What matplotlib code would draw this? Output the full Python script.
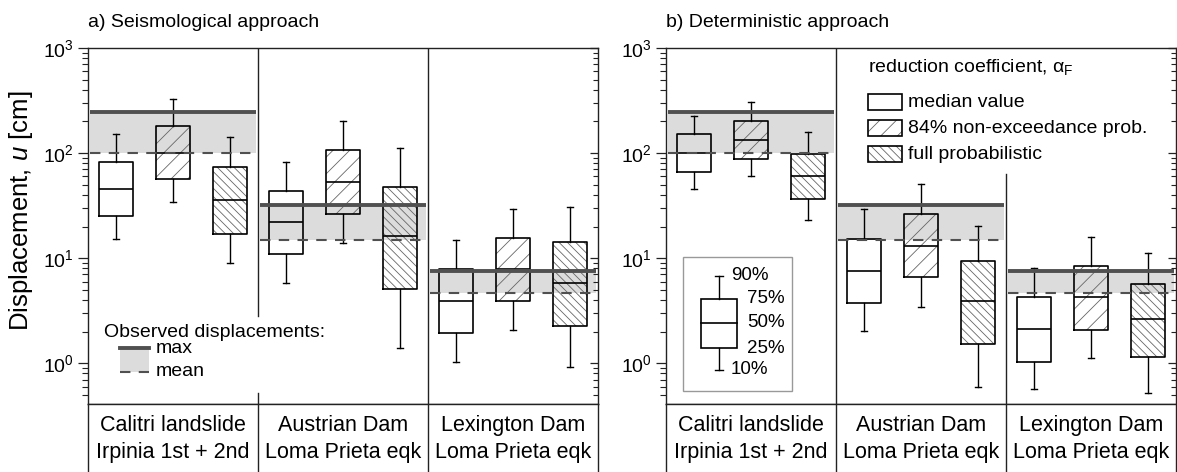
#!/usr/bin/env python3
"""Box plots of computed vs. observed permanent displacements for three case histories."""

import matplotlib.pyplot as plt
import numpy as np
from matplotlib.patches import Rectangle

plt.rcParams["font.family"] = "Liberation Sans"
plt.rcParams["mathtext.fontset"] = "custom"
plt.rcParams["mathtext.rm"] = "Liberation Sans"
plt.rcParams["mathtext.it"] = "Liberation Sans:italic"
plt.rcParams["hatch.linewidth"] = 0.6

SITE_LINE1 = ["Calitri landslide", "Austrian Dam", "Lexington Dam"]
SITE_LINE2 = ["Irpinia 1st + 2nd", "Loma Prieta eqk", "Loma Prieta eqk"]
METHODS = ["median value", "84% non-exceedance prob.", "full probabilistic"]
PERCENTILES = ["10%", "25%", "50%", "75%", "90%"]

# observed displacements [cm] per site
OBS_MAX = [246, 32, 7.5]
OBS_MEAN = [100, 15, 4.65]

# computed displacements [cm]: (10%, 25%, 50%, 75%, 90%) per site
SEIS_MEDIAN = [(15.2, 25.1, 45.4, 82, 152), (5.8, 10.9, 22, 43.5, 82), (1.02, 1.93, 3.9, 7.86, 14.8)]
SEIS_84 = [(34.2, 56.5, 100, 181, 327), (13.9, 26.2, 52.9, 107, 202), (2.06, 3.9, 7.86, 15.5, 29.3)]
SEIS_FULL = [(8.96, 16.9, 35.7, 73.6, 142), (1.39, 5.07, 16.2, 47.4, 112), (0.916, 2.25, 5.78, 14.2, 30.6)]

DET_MEDIAN = [(45.4, 65.9, 100, 152, 225), (2.02, 3.73, 7.52, 15.2, 29.3), (0.565, 1.04, 2.11, 4.25, 8.03)]
DET_84 = [(60.4, 87.7, 133, 202, 306), (3.41, 6.59, 13, 26.2, 50.7), (1.12, 2.06, 4.25, 8.4, 15.8)]
DET_FULL = [(23, 36.5, 60.4, 98, 158), (0.59, 1.52, 3.9, 9.36, 20.2), (0.52, 1.14, 2.62, 5.65, 11.2)]

HATCHES = ["", "//", "\\\\\\\\"]
OFFSETS = [1 / 6, 1 / 2, 5 / 6]
BOX_W = 0.2

BAND = "#dcdcdc"
OBS_LINE = "#505050"
HATCH_COL = "#666666"
EDGE = "#222222"
FS = 14

W, H = 1177, 472
AX_TOP, AX_BOT = 48, 404


def frac_rect(x0, x1):
    return [x0 / W, (H - AX_BOT) / H, (x1 - x0) / W, (AX_BOT - AX_TOP) / H]


def draw_boxes(ax, series):
    line = dict(color="black", lw=1.0)
    for stats, hatch, off in zip(series, HATCHES, OFFSETS):
        pos = np.arange(len(stats)) + off
        bxp_stats = [dict(whislo=s[0], q1=s[1], med=s[2], q3=s[3], whishi=s[4], fliers=[])
                     for s in stats]
        ax.bxp(bxp_stats, positions=pos, widths=BOX_W, capwidths=0.035,
               showfliers=False, manage_ticks=False,
               boxprops=dict(color="black", lw=1.2), medianprops=dict(color="black", lw=1.2),
               whiskerprops=line, capprops=line)
        if hatch:
            for p, s in zip(pos, stats):
                ax.add_patch(Rectangle((p - BOX_W / 2, s[1]), BOX_W, s[3] - s[1],
                                       fill=False, hatch=hatch, edgecolor=HATCH_COL,
                                       lw=0, zorder=1.5))


def draw_observed(ax):
    for g, (vmax, vmean) in enumerate(zip(OBS_MAX, OBS_MEAN)):
        x0, x1 = g + 0.012, g + 0.988
        ax.fill_between([x0, x1], vmean, vmax, color=BAND, lw=0, zorder=1)
        ax.hlines(vmax, x0, x1, color=OBS_LINE, lw=2.8, zorder=3)
        ax.hlines(vmean, x0, x1, color=OBS_LINE, lw=1.5, linestyles=(0, (5, 4)), zorder=3)


def setup_axes(fig, x0, x1):
    ax = fig.add_axes(frac_rect(x0, x1))
    ax.set_yscale("log")
    ax.set_ylim(0.41, 1000)
    ax.set_xlim(0, 3)
    ax.set_xticks([])
    for sp in ax.spines.values():
        sp.set_color(EDGE)
        sp.set_linewidth(1.0)
    ax.tick_params(axis="y", which="major", direction="out", length=7, width=0.9,
                   labelsize=FS, color=EDGE)
    ax.tick_params(axis="y", which="minor", direction="out", length=4, width=0.8, color=EDGE)

    tw = ax.twinx()
    tw.set_yscale("log")
    tw.set_ylim(ax.get_ylim())
    tw.tick_params(axis="y", which="major", direction="in", length=6, width=0.9,
                   labelright=False, color=EDGE)
    tw.tick_params(axis="y", which="minor", direction="in", length=3.5, width=0.8, color=EDGE)
    for sp in tw.spines.values():
        sp.set_visible(False)

    lab = fig.add_axes([x0 / W, 0, (x1 - x0) / W, (H - AX_BOT) / H])
    lab.set_xlim(0, 3)
    lab.set_ylim(0, 1)
    lab.set_xticks([])
    lab.set_yticks([])
    lab.spines["bottom"].set_visible(False)
    for name in ("top", "left", "right"):
        lab.spines[name].set_color(EDGE)
        lab.spines[name].set_linewidth(1.0)
    for g in range(3):
        lab.text(g + 0.5, 0.69, SITE_LINE1[g], ha="center", va="center", fontsize=15.5)
        lab.text(g + 0.5, 0.29, SITE_LINE2[g], ha="center", va="center", fontsize=15.5)
    for g in (1, 2):
        lab.axvline(g, color=EDGE, lw=1.0)
    return ax


fig = plt.figure(figsize=(W / 100, H / 100), dpi=100)

# a) seismological approach
ax_a = setup_axes(fig, 88, 598)
draw_observed(ax_a)
draw_boxes(ax_a, [SEIS_MEDIAN, SEIS_84, SEIS_FULL])
ax_a.axvline(1, ymin=0.247, ymax=1, color=EDGE, lw=1.0)
ax_a.axvline(1, ymin=0, ymax=0.031, color=EDGE, lw=1.0)
ax_a.axvline(2, color=EDGE, lw=1.0)
ax_a.text(0, 1.073, "a) Seismological approach", transform=ax_a.transAxes,
          ha="left", va="center", fontsize=FS)

ax_a.text(0.031, 0.202, "Observed displacements:", transform=ax_a.transAxes,
          ha="left", va="center", fontsize=FS)
ax_a.add_patch(Rectangle((0.063, 0.09), 0.057, 0.067, transform=ax_a.transAxes,
                         color=BAND, lw=0))
ax_a.plot([0.063, 0.12], [0.157, 0.157], transform=ax_a.transAxes, color=OBS_LINE, lw=2.8)
ax_a.plot([0.063, 0.12], [0.09, 0.09], transform=ax_a.transAxes, color=OBS_LINE, lw=1.5,
          ls=(0, (5, 4)))
ax_a.text(0.133, 0.157, "max", transform=ax_a.transAxes, ha="left", va="center", fontsize=FS)
ax_a.text(0.133, 0.09, "mean", transform=ax_a.transAxes, ha="left", va="center", fontsize=FS)

fig.text(0.018, 0.553, "Displacement, $u$ [cm]", rotation=90, ha="center", va="center",
         fontsize=18.5)

# b) deterministic approach
ax_b = setup_axes(fig, 666, 1176)
draw_observed(ax_b)
draw_boxes(ax_b, [DET_MEDIAN, DET_84, DET_FULL])
ax_b.axvline(1, color=EDGE, lw=1.0)
ax_b.axvline(2, ymin=0, ymax=0.646, color=EDGE, lw=1.0)
ax_b.text(0, 1.073, "b) Deterministic approach", transform=ax_b.transAxes,
          ha="left", va="center", fontsize=FS)

ax_b.text(0.396, 0.947, r"reduction coefficient, $\mathrm{\alpha_{F}}$",
          transform=ax_b.transAxes, ha="left", va="center", fontsize=FS)
for i, (name, hatch) in enumerate(zip(METHODS, HATCHES)):
    yc = 0.848 - 0.073 * i
    if hatch:
        ax_b.add_patch(Rectangle((0.396, yc - 0.0225), 0.067, 0.045, transform=ax_b.transAxes,
                                 fill=False, hatch=hatch, edgecolor=HATCH_COL, lw=0))
    ax_b.add_patch(Rectangle((0.396, yc - 0.0225), 0.067, 0.045, transform=ax_b.transAxes,
                             fill=False, edgecolor="black", lw=1.2))
    ax_b.text(0.475, yc, name, transform=ax_b.transAxes, ha="left", va="center", fontsize=FS)

# percentile key
ax_b.add_patch(Rectangle((0.033, 0.037), 0.214, 0.376, transform=ax_b.transAxes,
                         fill=False, edgecolor="#999999", lw=1.0))
key_y = [0.096, 0.157, 0.228, 0.295, 0.360]
kx0, kx1, kxc = 0.069, 0.139, 0.104
ax_b.add_patch(Rectangle((kx0, key_y[1]), kx1 - kx0, key_y[3] - key_y[1],
                         transform=ax_b.transAxes, fill=False, edgecolor="black", lw=1.2))
ax_b.plot([kx0, kx1], [key_y[2]] * 2, transform=ax_b.transAxes, color="black", lw=1.2)
ax_b.plot([kxc, kxc], [key_y[0], key_y[1]], transform=ax_b.transAxes, color="black", lw=1.0)
ax_b.plot([kxc, kxc], [key_y[3], key_y[4]], transform=ax_b.transAxes, color="black", lw=1.0)
for yv in (key_y[0], key_y[4]):
    ax_b.plot([kxc - 0.008, kxc + 0.008], [yv, yv], transform=ax_b.transAxes, color="black",
              lw=1.0)
key_lx = [0.127, 0.159, 0.159, 0.159, 0.127]
for lx, yv, txt in zip(key_lx, key_y, PERCENTILES):
    ax_b.text(lx, yv, txt, transform=ax_b.transAxes, ha="left", va="center", fontsize=13.5)

fig.savefig("out.png", dpi=100)
